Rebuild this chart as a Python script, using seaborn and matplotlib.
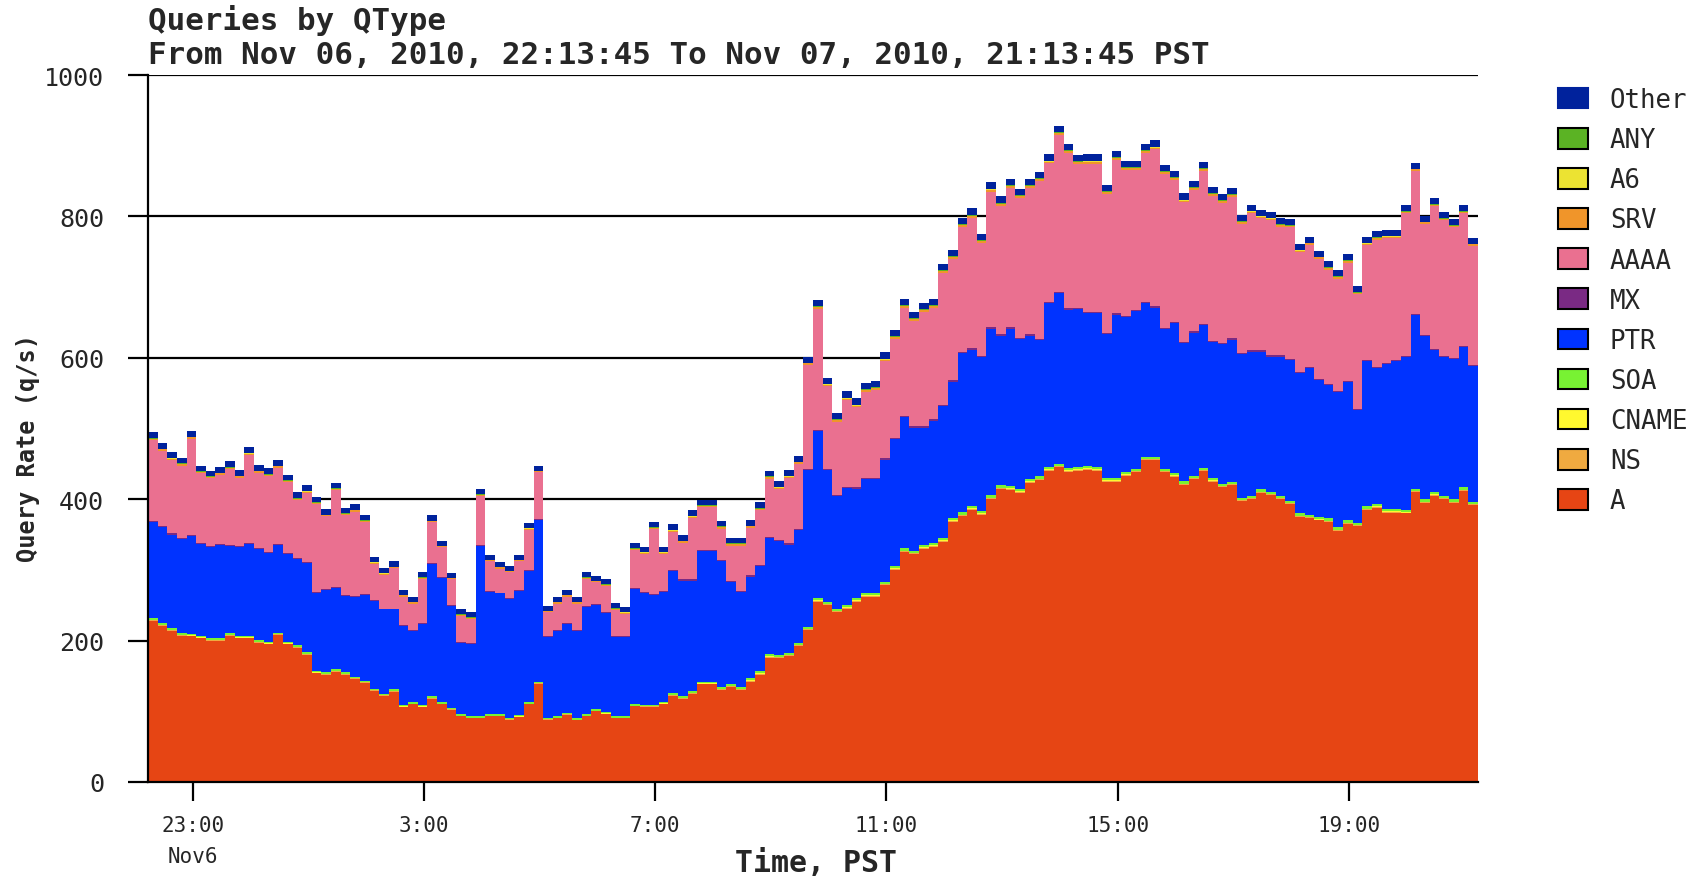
import numpy as np
import pandas as pd
import matplotlib
matplotlib.use("Agg")
import matplotlib.pyplot as plt
import matplotlib.transforms as mtransforms
from matplotlib.patches import Patch
import seaborn as sns

# ---------------- data (10-minute steps from Nov 06 22:13:45 PST) ----------------
qtypes = ["Other", "ANY", "A6", "SRV", "AAAA", "MX", "PTR", "SOA", "CNAME", "NS", "A"]
colors = ["#00229c", "#5bb324", "#ece332", "#f0952a", "#ea7090", "#7a2a84",
          "#0033ff", "#78f233", "#fff82f", "#f0aa40", "#e64514"]

A_vals = [228, 221, 214, 207, 206, 203, 200, 200, 207, 203,
          203, 197, 195, 208, 195, 190, 180, 154, 152, 156,
          152, 146, 140, 129, 122, 128, 106, 110, 106, 118,
          110, 102, 93, 90, 90, 93, 93, 88, 92, 110,
          139, 88, 90, 95, 87, 93, 100, 96, 90, 90,
          107, 106, 106, 110, 122, 118, 125, 138, 138, 130,
          134, 130, 142, 152, 176, 175, 178, 192, 215, 255,
          250, 240, 245, 255, 262, 262, 278, 300, 325, 322,
          330, 333, 340, 368, 376, 385, 378, 400, 414, 413,
          409, 423, 427, 440, 445, 439, 440, 442, 440, 425,
          425, 433, 438, 455, 455, 438, 432, 420, 428, 440,
          425, 417, 420, 397, 400, 409, 406, 400, 393, 375,
          373, 370, 368, 355, 365, 362, 385, 388, 381, 381,
          380, 410, 395, 405, 400, 395, 412, 392]

PTR_vals = [136, 135, 132, 133, 138, 129, 129, 131, 123, 125,
            129, 128, 126, 124, 124, 122, 127, 110, 117, 115,
            108, 112, 121, 124, 119, 113, 112, 101, 115, 188,
            176, 144, 101, 103, 241, 173, 171, 168, 175, 186,
            229, 114, 121, 126, 124, 151, 148, 140, 111, 111,
            162, 158, 155, 156, 173, 163, 156, 185, 185, 179,
            144, 134, 144, 149, 164, 161, 153, 159, 221, 236,
            186, 159, 166, 155, 161, 161, 173, 180, 186, 174,
            166, 173, 186, 193, 225, 221, 218, 236, 212, 223,
            212, 203, 193, 232, 241, 224, 224, 216, 218, 203,
            231, 220, 223, 217, 211, 198, 212, 196, 203, 201,
            193, 198, 201, 204, 204, 195, 191, 197, 199, 198,
            207, 193, 188, 191, 196, 159, 206, 193, 205, 210,
            216, 246, 231, 201, 196, 199, 199, 191]

AAAA_vals = [114, 107, 104, 102, 136, 99, 95, 98, 107, 97,
             125, 107, 107, 108, 100, 82, 97, 124, 102, 137,
             113, 120, 102, 51, 48, 57, 40, 37, 62, 57,
             42, 37, 37, 34, 70, 42, 34, 37, 41, 57,
             66, 34, 37, 37, 37, 39, 30, 37, 37, 32,
             54, 54, 92, 52, 53, 52, 87, 60, 60, 44,
             50, 64, 67, 77, 83, 72, 92, 92, 147, 172,
             117, 104, 122, 113, 122, 125, 137, 140, 152, 149,
             162, 157, 187, 172, 177, 185, 159, 192, 182, 197,
             198, 207, 223, 196, 222, 220, 203, 210, 210, 197,
             217, 206, 198, 211, 222, 217, 201, 197, 200, 217,
             205, 198, 200, 182, 194, 187, 191, 182, 186, 170,
             173, 170, 162, 159, 167, 162, 162, 180, 177, 172,
             202, 202, 157, 202, 192, 184, 187, 169]

# small series, read hourly (23 hours)
NS_hourly = [1.0, 1.0, 0.8, 0.8, 0.7, 0.6, 0.6, 0.7, 0.8, 1.0, 1.2, 1.3,
             1.4, 1.4, 1.5, 1.5, 1.4, 1.4, 1.3, 1.2, 1.2, 1.1, 1.1]
CNAME_hourly = [0.5, 0.5, 0.4, 0.4, 0.3, 0.3, 0.3, 0.3, 0.4, 0.5, 0.6, 0.6,
                0.7, 0.7, 0.7, 0.7, 0.7, 0.7, 0.6, 0.6, 0.6, 0.6, 0.6]
SOA_hourly = [2.5, 2.5, 2.2, 2.0, 2.0, 1.8, 1.8, 2.0, 2.2, 2.5, 2.8, 3.0,
              3.0, 3.2, 3.2, 3.0, 3.0, 3.0, 2.8, 3.0, 3.2, 3.0, 3.0]
MX_hourly = [1.5, 1.5, 1.4, 1.4, 1.3, 1.2, 1.2, 1.3, 1.4, 1.5, 1.6, 1.7,
             1.8, 1.8, 1.8, 1.8, 1.7, 1.7, 1.7, 1.6, 1.6, 1.6, 1.6]
SRV_hourly = [2.0, 2.0, 1.8, 1.8, 1.6, 1.5, 1.5, 1.6, 1.8, 2.0, 2.2, 2.4,
              2.5, 2.5, 2.6, 2.6, 2.5, 2.5, 2.4, 2.3, 2.3, 2.2, 2.2]
A6_hourly = [0.3, 0.3, 0.3, 0.3, 0.2, 0.2, 0.2, 0.2, 0.3, 0.3, 0.3, 0.4,
             0.4, 0.4, 0.4, 0.4, 0.4, 0.4, 0.4, 0.4, 0.3, 0.3, 0.3]
ANY_hourly = [0.7, 0.7, 0.6, 0.6, 0.5, 0.5, 0.5, 0.5, 0.6, 0.7, 0.8, 0.9,
              0.9, 1.0, 1.0, 1.0, 1.0, 0.9, 0.9, 0.9, 0.8, 0.8, 0.8]
Other_hourly = [8.0, 8.0, 8.0, 7.5, 7.5, 7.0, 7.0, 7.0, 7.5, 8.0, 8.0, 8.5,
                9.0, 9.0, 9.0, 9.0, 9.0, 9.0, 8.5, 8.5, 8.5, 8.5, 8.5]

x_tick_labels = ["23:00", "3:00", "7:00", "11:00", "15:00", "19:00"]
y_ticks = [0, 200, 400, 600, 800, 1000]

title_lines = ["Queries by QType",
               "From Nov 06, 2010, 22:13:45 To Nov 07, 2010, 21:13:45 PST"]

# ---------------- assemble ----------------
steps_per_hour = 6
n = len(A_vals)
total_hours = n / steps_per_hour
centers = (np.arange(n) + 0.5) / steps_per_hour

series = {
    "A": A_vals, "PTR": PTR_vals, "AAAA": AAAA_vals,
    "NS": np.repeat(NS_hourly, steps_per_hour),
    "CNAME": np.repeat(CNAME_hourly, steps_per_hour),
    "SOA": np.repeat(SOA_hourly, steps_per_hour),
    "MX": np.repeat(MX_hourly, steps_per_hour),
    "SRV": np.repeat(SRV_hourly, steps_per_hour),
    "A6": np.repeat(A6_hourly, steps_per_hour),
    "ANY": np.repeat(ANY_hourly, steps_per_hour),
    "Other": np.repeat(Other_hourly, steps_per_hour),
}
rows = []
for q in qtypes:
    for xc, v in zip(centers, series[q]):
        rows.append((xc, float(v), q))
df = pd.DataFrame(rows, columns=["hour", "rate", "qtype"])

start_h = 22 + 13 / 60 + 45 / 3600
tick_pos = [((int(lbl.split(":")[0]) - start_h) % 24) for lbl in x_tick_labels]

# ---------------- plot ----------------
sns.set_style("white")
mono = ["DejaVu Sans Mono", "DejaVu Sans"]
plt.rcParams["font.family"] = mono

fig = plt.figure(figsize=(17.08, 8.79), dpi=100)
ax = fig.add_axes([148 / 1708, 1 - 783 / 879, 1330 / 1708, 707 / 879])

palette = dict(zip(qtypes, colors))
sns.histplot(data=df, x="hour", weights="rate", hue="qtype", hue_order=qtypes,
             palette=palette, multiple="stack", element="step",
             bins=n, binrange=(0, total_hours),
             alpha=1, linewidth=0, legend=False, ax=ax)

ax.set_xlim(0, total_hours)
ax.set_ylim(0, 1000)
ax.set_axisbelow(True)
ax.yaxis.grid(True, color="black", linewidth=1.6)
ax.xaxis.grid(False)
for s in ["top", "right"]:
    ax.spines[s].set_visible(False)
ax.spines["left"].set_color("black")
ax.spines["left"].set_linewidth(1.6)
ax.spines["bottom"].set_color("black")
ax.spines["bottom"].set_linewidth(1.6)
ax.spines["left"].set_zorder(5)

ax.set_yticks(y_ticks)
ax.set_yticklabels([str(v) for v in y_ticks])
ax.set_xticks(tick_pos)
ax.set_xticklabels(x_tick_labels)
ax.tick_params(axis="y", which="major", left=True, direction="out", length=14.5,
               width=1.6, color="black", labelsize=18, pad=17)
ax.tick_params(axis="x", which="major", bottom=True, direction="out", length=13.5,
               width=1.6, color="black", labelsize=15, pad=10)
ax.set_xlabel("")
ax.set_ylabel("")

# second line under first x tick
trans = mtransforms.blended_transform_factory(ax.transData, fig.transFigure)
ax.text(tick_pos[0], 1 - 857 / 879, "Nov6", transform=trans, ha="center",
        va="center", fontsize=15)

fig.text(148 / 1708, 1 - 20 / 879, title_lines[0], ha="left", va="center",
         fontsize=22.2, fontweight="bold")
fig.text(148 / 1708, 1 - 56 / 879, title_lines[1], ha="left", va="center",
         fontsize=22.2, fontweight="bold")
fig.text(816 / 1708, 1 - 864 / 879, "Time, PST", ha="center", va="center",
         fontsize=21.5, fontweight="bold")
fig.text(28 / 1708, 1 - 448 / 879, "Query Rate (q/s)", ha="center", va="center",
         rotation=90, fontsize=17, fontweight="bold")

handles = []
for q, c in zip(qtypes, colors):
    ec = c if q == "Other" else "black"
    handles.append(Patch(facecolor=c, edgecolor=ec, linewidth=1.5))
fig.legend(handles, qtypes, loc="upper left", bbox_to_anchor=(1558 / 1708, 1 - 88 / 879),
           frameon=False, fontsize=18.5, handlelength=1.17, handleheight=0.86,
           handletextpad=0.85, labelspacing=0.55, borderpad=0, borderaxespad=0)

fig.savefig("out.png", dpi=100)
